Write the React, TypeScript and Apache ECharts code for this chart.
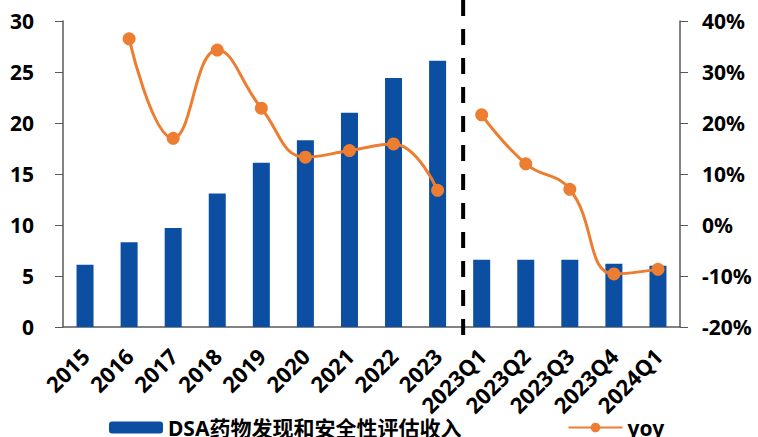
import React, { useEffect, useRef } from "react";
import * as echarts from "echarts";

const categories = [
  "2015", "2016", "2017", "2018", "2019", "2020", "2021", "2022", "2023",
  "2023Q1", "2023Q2", "2023Q3", "2023Q4", "2024Q1",
];
const revenue = [6.1, 8.3, 9.7, 13.1, 16.1, 18.3, 21.0, 24.4, 26.1, 6.6, 6.6, 6.6, 6.2, 6.0];
const yoyAnnual = [null, 36.5, 17.0, 34.3, 22.9, 13.3, 14.6, 15.9, 6.8];
const yoyQuarterly = [21.6, 12.0, 7.0, -9.6, -8.7];
const leftTicks = { min: 0, max: 30, interval: 5 };
const rightTicks = { min: -20, max: 40, interval: 10 };
const barName = "DSA药物发现和安全性评估收入";
const lineName = "yoy";

const FONT = "'Noto Sans', 'Noto Sans CJK SC', sans-serif";
const BLUE = "#0c4ea2";
const ORANGE = "#ed7d31";
const AXIS_GRAY = "#595959";

export default function App() {
  const ref = useRef<HTMLDivElement>(null);
  useEffect(() => {
    if (!ref.current) return;
    const chart = echarts.init(ref.current, undefined, { renderer: "svg" });
    const nA = yoyAnnual.length;
    const annualData = categories.map((_, i) => (i < nA ? yoyAnnual[i] : null));
    const quarterlyData = categories.map((_, i) => (i >= nA ? yoyQuarterly[i - nA] : null));
    const lineCommon = {
      type: "line",
      name: lineName,
      yAxisIndex: 1,
      smooth: 0.45,
      symbol: "circle",
      symbolSize: 13,
      connectNulls: false,
      lineStyle: { color: ORANGE, width: 3 },
      itemStyle: { color: ORANGE },
      z: 3,
    };
    chart.setOption({
      animation: false,
      textStyle: { fontFamily: FONT },
      grid: { left: 63, right: 78, top: 21, bottom: 110 },
      legend: {
        data: [barName, lineName],
        left: 104,
        top: 412,
        itemWidth: 54,
        itemHeight: 12,
        itemGap: 106,
        textStyle: { fontSize: 21, fontWeight: "bold", color: "#000", fontFamily: FONT },
      },
      xAxis: {
        type: "category",
        data: categories,
        axisLine: { lineStyle: { color: AXIS_GRAY, width: 1.5 } },
        axisTick: { alignWithLabel: true, length: 6, lineStyle: { color: AXIS_GRAY } },
        axisLabel: {
          rotate: 45,
          interval: 0,
          margin: 25,
          fontSize: 22,
          fontWeight: "bold",
          color: "#000",
          fontFamily: FONT,
        },
      },
      yAxis: [
        {
          type: "value",
          ...leftTicks,
          splitLine: { show: false },
          axisLine: { show: true, lineStyle: { color: AXIS_GRAY, width: 1.5 } },
          axisTick: { show: true, length: 8, lineStyle: { color: AXIS_GRAY } },
          axisLabel: { margin: 29, fontSize: 21, fontWeight: "bold", color: "#000", fontFamily: FONT },
        },
        {
          type: "value",
          ...rightTicks,
          splitLine: { show: false },
          axisLine: { show: true, lineStyle: { color: AXIS_GRAY, width: 1.5 } },
          axisTick: { show: true, length: 8, lineStyle: { color: AXIS_GRAY } },
          axisLabel: {
            margin: 22,
            fontSize: 21,
            fontWeight: "bold",
            color: "#000",
            fontFamily: FONT,
            formatter: (v: number) => `${Math.round(v)}%`,
          },
        },
      ],
      series: [
        {
          type: "bar",
          name: barName,
          data: revenue,
          barWidth: 17,
          itemStyle: { color: BLUE },
        },
        { ...lineCommon, data: annualData },
        { ...lineCommon, data: quarterlyData },
      ],
    });
    const xa = chart.convertToPixel({ xAxisIndex: 0 }, categories[nA - 1]) as number;
    const xb = chart.convertToPixel({ xAxisIndex: 0 }, categories[nA]) as number;
    const x = (xa + xb) / 2 + 3.5;
    chart.setOption({
      graphic: [
        {
          type: "line",
          shape: { x1: x, y1: 0, x2: x, y2: 337 },
          style: { stroke: "#000", lineWidth: 4, lineDash: [16, 13] },
          z: 10,
        },
      ],
    });
    return () => chart.dispose();
  }, []);
  return (
    <div
      ref={ref}
      style={{ position: "fixed", left: 0, top: 0, width: 758, height: 437, background: "#fff" }}
    />
  );
}
